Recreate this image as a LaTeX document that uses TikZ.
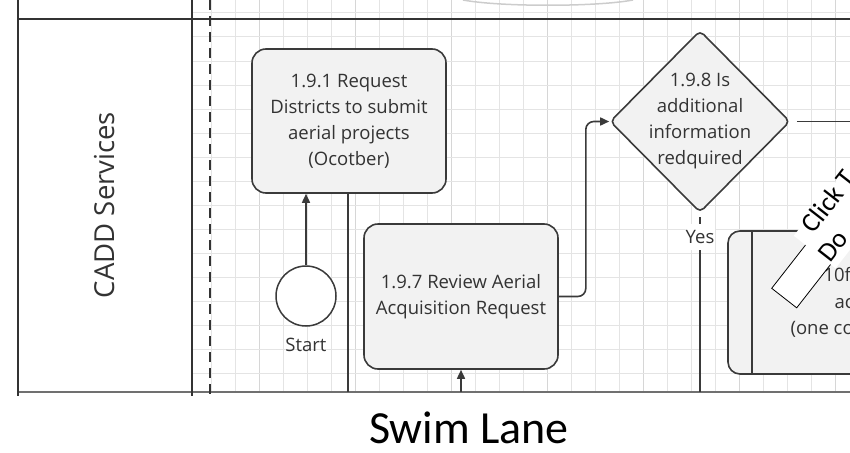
\documentclass[tikz,border=0pt]{standalone}
\usepackage{fontspec}
\setmainfont{Open Sans}
\newfontfamily\calib{Carlito}
\usetikzlibrary{arrows.meta,shapes.geometric}
\definecolor{gridc}{HTML}{E4E4E4}
\definecolor{gridm}{HTML}{D6D6D6}
\definecolor{bordc}{HTML}{3A3A3A}
\definecolor{boxf}{HTML}{F2F2F2}
\definecolor{txtc}{HTML}{333333}
\definecolor{lanec}{HTML}{333333}
\definecolor{botc}{HTML}{707070}
\definecolor{arcc}{HTML}{CCCCCC}
\begin{document}
\begin{tikzpicture}[x=1pt,y=-1pt,
  box/.style={draw=bordc, fill=boxf, rounded corners=14pt, line width=1.6pt,
    minimum width=194pt, minimum height=144pt, inner sep=0pt},
  txt/.style={text=txtc, font=\fontsize{18.5}{26}\selectfont, align=center},
  conn/.style={draw=bordc, line width=1.6pt},
  arr/.style={conn, -{Triangle[length=9pt,width=8pt]}},
  lane/.style={draw=lanec, line width=1.6pt},
]
\useasboundingbox (0,0) rectangle (850,452);
\clip (0,0) rectangle (850,452);
% grid (24 px cells)
\foreach \gx in {211,235,...,859} {
  \draw[gridc, line width=1pt] (\gx,0) -- (\gx,392);
}
\foreach \gx in {259,355,...,859} {
  \draw[gridm, line width=1pt] (\gx,0) -- (\gx,392);
}
\foreach \gy in {13,37,...,373} {
  \draw[gridc, line width=1pt] (192,\gy) -- (850,\gy);
}
% faint arc at top
\draw[arcc, line width=1.5pt] (463,0) .. controls (500,7) and (596,7) .. (633,0);
% lane frame
\draw[lane] (18,19) -- (850,19);
\draw[draw=botc, line width=1.8pt] (18,392) -- (850,392);
\draw[lane] (18,0) -- (18,396);
\draw[lane] (192,0) -- (192,396);
\draw[lane, line width=1.4pt, dash pattern=on 10pt off 6pt] (210,0) -- (210,396);
\node[rotate=90, text=txtc, font=\fontsize{27.5}{28}\selectfont] (lanelabel) at (105,205) {CADD Services};
% nodes
\node[box] (b1) at (349,121) {};
\node[txt] (t1) at (b1.center) {1.9.1 Request\\Districts to submit\\aerial projects\\(Ocotber)};
\node[box, minimum height=145pt] (b2) at (461,296.5) {};
\node[txt] (t2) at (b2.center) {1.9.7 Review Aerial\\Acquisition Request};
\node[diamond, draw=bordc, fill=boxf, line width=1.6pt, rounded corners=5pt,
  minimum width=180pt, minimum height=182pt, inner sep=0pt] (d) at (700,121.5) {};
\node[txt] (t3) at (d.center) {1.9.8 Is\\additional\\information\\redquired};
\node[circle, draw=bordc, fill=white, line width=1.5pt, minimum size=60pt, inner sep=0pt] (start) at (306,296) {};
\node[txt, anchor=base] (startlbl) at (306,351) {Start};
% box 3 (partly off the page)
\node[box, minimum height=143pt, rounded corners=12pt] (b3) at (825,302.5) {};
\draw[conn] (751.7,231) coordinate (b3a) -- (751.7,374) coordinate (b3b);
\node[txt, anchor=base west] (b3l1) at (820,281) {10f};
\node[txt, anchor=base west] (b3l2) at (831,308) {ac};
\node[txt, anchor=base west] (b3l3) at (787,334) {(one co};
% connectors
\coordinate (l1) at (348,392);
\coordinate (l2) at (461,392);
\coordinate (ybot) at (700,392);
\coordinate (dr) at (860,121.5);
\draw[arr] (start.north) -- (start.north |- b1.south);
\draw[conn] (l1 |- b1.south) -- (l1);
\draw[arr] (l2) -- (b2.south);
\draw[arr, rounded corners=8pt] (b2.east) -- ++(27,0) |- (d.west);
\draw[conn, shorten <=6pt] (d.east) -- (dr);
\node[txt, fill=white, inner sep=1pt, minimum height=26pt] (yes) at (700,237) {Yes};
\draw[conn, shorten <=4pt] (d.south) -- (yes.north);
\draw[conn] (yes.south) -- (ybot);
% ribbon callout
\begin{scope}[shift={(771.7,288.3)}, rotate=52, transform shape]
  \fill[white] (0,0) rectangle (220,31.7);
  \draw[black, line width=0.8pt] (0,0) rectangle (220,31.7);
  \fill[white] (55,-15) rectangle (260,38);
  \node[anchor=base west, inner sep=0pt, font=\calib\fontsize{27}{27}\selectfont] (rib1) at (68,0) {Click T};
  \node[anchor=base west, inner sep=0pt, font=\calib\fontsize{27}{27}\selectfont] (rib2) at (55.5,31) {Do};
\end{scope}
% caption
\node[font=\calib\fontsize{46}{46}\selectfont, anchor=base] (cap) at (469,443) {Swim Lane};
\end{tikzpicture}
\end{document}
